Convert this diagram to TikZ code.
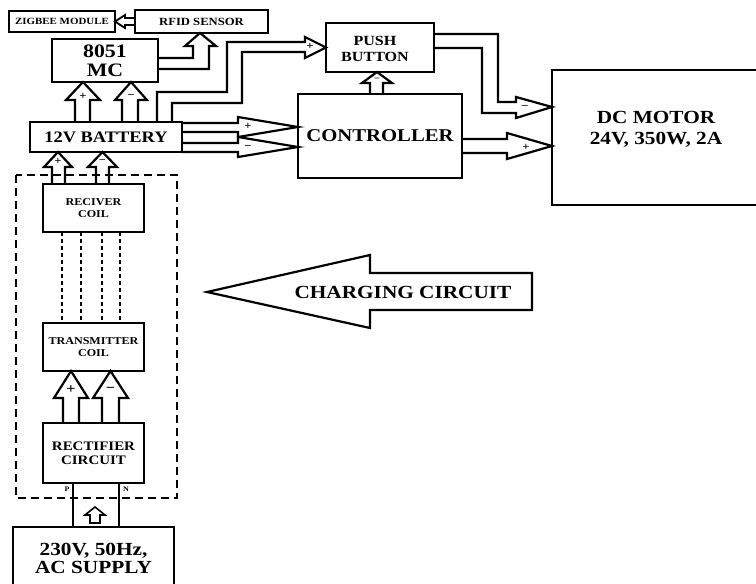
\documentclass[tikz,border=0pt]{standalone}
\usepackage{fontspec}
\setmainfont{Liberation Serif}[FakeStretch=1.15]
\begin{document}
\begin{tikzpicture}[x=1pt,y=-1pt,
  blk/.style={draw, line width=2.6pt, inner sep=0pt, outer sep=0pt, align=center},
  txt/.style={inner sep=0pt, align=center},
  fs/.style={font=\bfseries\fontsize{#1}{#1}\selectfont},
  harr/.style={draw, line width=2.2pt, line join=miter},
  sgn/.style={inner sep=0pt, font=\bfseries\fontsize{11}{11}\selectfont},
  coilwire/.style={line width=2.6pt, dash pattern=on 4pt off 3pt}]
\useasboundingbox (0,0) rectangle (756,584);
\fill[white] (0,0) rectangle (756,584);
\clip (0,0) rectangle (756,584);

% ---------- blocks ----------
\node[blk, minimum width=106, minimum height=21, fs=9.5] (zig) at (62,21.5) {ZIGBEE MODULE};
\node[blk, minimum width=133, minimum height=23, fs=11] (rfid) at (201.5,21.5) {RFID SENSOR};
\node[blk, minimum width=106, minimum height=43, font=\bfseries\fontsize{19}{19}\selectfont] (mc) at (105,60.5) {8051\\MC};
\node[blk, minimum width=152, minimum height=30, fs=16] (bat) at (106,137) {12V BATTERY};
\node[blk, minimum width=108, minimum height=49] (push) at (380,47.5) {};
\node[txt, font=\bfseries\fontsize{14}{16}\selectfont] at (375,49) {PUSH\\BUTTON};
\node[blk, minimum width=164, minimum height=84, fs=18] (ctrl) at (380,136) {CONTROLLER};
\node[blk, minimum width=208, minimum height=135] (motor) at (656,137.5) {};
\node[txt, font=\bfseries\fontsize{18.5}{21}\selectfont] at (656,129) {DC MOTOR\\24V, 350W, 2A};

\node[blk, minimum width=101, minimum height=48, font=\bfseries\fontsize{10.5}{11.5}\selectfont] (recv) at (93.5,208) {RECIVER\\COIL};
\node[blk, minimum width=101, minimum height=48, font=\bfseries\fontsize{10.5}{12}\selectfont] (trans) at (93.5,347) {TRANSMITTER\\COIL};
\node[blk, minimum width=101, minimum height=60, font=\bfseries\fontsize{13}{14}\selectfont] (rect) at (93.5,453) {RECTIFIER\\CIRCUIT};
\node[blk, minimum width=161, minimum height=63, font=\bfseries\fontsize{18.5}{18}\selectfont] (ac) at (93.5,558.5) {230V, 50Hz,\\AC SUPPLY};

% charging circuit boundary
\draw[line width=2.6pt, dash pattern=on 8pt off 5pt] (16,175) rectangle (177,498);

% ---------- hollow arrows ----------
% RFID -> ZIGBEE
\draw[harr, line width=1.8pt] (rfid.west |- 0,18) -- (125,18) -- (125,15) -- (zig.east) -- (125,28) -- (125,25) -- (rfid.west |- 0,25);

% 8051 -> RFID
\draw[harr] (mc.east |- 0,58) -- (193,58) -- (193,46) -- (185,46) -- (200,0 |- rfid.south) -- (216,46) -- (209,46) -- (209,69) -- (mc.east |- 0,69);

% battery -> 8051 (+ and -)
\draw[harr] (75,0 |- bat.north) -- (75,100) -- (66,100) -- (83,0 |- mc.south) -- (100,100) -- (90,100) -- (90,0 |- bat.north);
\node[sgn] at (83,96) {+};
\draw[harr] (122,0 |- bat.north) -- (122,100) -- (115,100) -- (131,0 |- mc.south) -- (147,100) -- (138,100) -- (138,0 |- bat.north);
\node[sgn] at (131,96) {−};

% battery -> push button
\draw[harr] (157,0 |- bat.north) -- (157,92) -- (227,92) -- (227,42) -- (305,42) -- (305,37) -- (push.west) -- (305,58) -- (305,52) -- (242,52) -- (242,103) -- (172,103) -- (172,0 |- bat.north);
\node[sgn] at (310,46) {+};

% battery -> controller
\draw[harr] (bat.east |- 0,123) -- (238,123) -- (238,117) -- (ctrl.west |- 0,127) -- (238,137) -- (238,132) -- (bat.east |- 0,132);
\node[sgn] at (248,126) {+};
\draw[harr] (bat.east |- 0,143) -- (238,143) -- (238,137) -- (ctrl.west |- 0,147) -- (238,157) -- (238,152) -- (bat.east |- 0,152);
\node[sgn] at (248,147) {−};

% controller -> push button
\draw[harr] (370,0 |- ctrl.north) -- (370,83) -- (362,83) -- (377,0 |- push.south) -- (392,83) -- (383,83) -- (383,0 |- ctrl.north);
\node[sgn, font=\bfseries\fontsize{9}{9}\selectfont] at (377,80) {−};

% controller -> motor
\draw[harr] (ctrl.east |- 0,139) -- (507,139) -- (507,133) -- (motor.west |- 0,146) -- (507,159) -- (507,153) -- (ctrl.east |- 0,153);
\node[sgn] at (526,147) {+};

% push button -> motor
\draw[harr] (push.east |- 0,34) -- (498,34) -- (498,102) -- (516,102) -- (516,97) -- (motor.west |- 0,107) -- (516,118) -- (516,113) -- (482,113) -- (482,48) -- (push.east |- 0,48);
\node[sgn] at (525,107) {−};

% receiver coil -> battery
\draw[harr] (52,0 |- recv.north) -- (52,167) -- (44,167) -- (58,0 |- bat.south) -- (72,167) -- (65,167) -- (65,0 |- recv.north);
\node[sgn] at (58,161) {+};
\draw[harr] (96,0 |- recv.north) -- (96,167) -- (88,167) -- (102.5,0 |- bat.south) -- (117,167) -- (109,167) -- (109,0 |- recv.north);
\node[sgn] at (102.5,161) {−};

% coupling between the coils
\foreach \cx in {62,81,102,120}
  \draw[coilwire] (\cx,0 |- recv.south) -- (\cx,0 |- trans.north);

% rectifier -> transmitter coil
\draw[harr] (63,0 |- rect.north) -- (63,398) -- (54,398) -- (71,0 |- trans.south) -- (88,398) -- (79,398) -- (79,0 |- rect.north);
\node[sgn, font=\bfseries\fontsize{14}{14}\selectfont] at (71,390) {+};
\draw[harr] (102,0 |- rect.north) -- (102,398) -- (93,398) -- (110.5,0 |- trans.south) -- (128,398) -- (119,398) -- (119,0 |- rect.north);
\node[sgn, font=\bfseries\fontsize{14}{14}\selectfont] at (110.5,390) {−};

% AC supply -> rectifier
\draw[line width=2.6pt] (73,0 |- rect.south) -- (73,0 |- ac.north);
\draw[line width=2.6pt] (119,0 |- rect.south) -- (119,0 |- ac.north);
\draw[harr, line width=1.6pt] (90,523) -- (90,515) -- (85,515) -- (95,507) -- (105,515) -- (100,515) -- (100,523) -- cycle;
\node[sgn, font=\bfseries\fontsize{7}{7}\selectfont] at (67,489) {P};
\node[sgn, font=\bfseries\fontsize{7}{7}\selectfont] at (126,489) {N};

% charging circuit label arrow
\draw[harr] (207,292) -- (370,255) -- (370,273) -- (532,273) -- (532,310) -- (370,310) -- (370,328) -- cycle;
\node[txt, font=\bfseries\fontsize{18.5}{18}\selectfont] at (403,292) {CHARGING CIRCUIT};
\end{tikzpicture}
\end{document}
